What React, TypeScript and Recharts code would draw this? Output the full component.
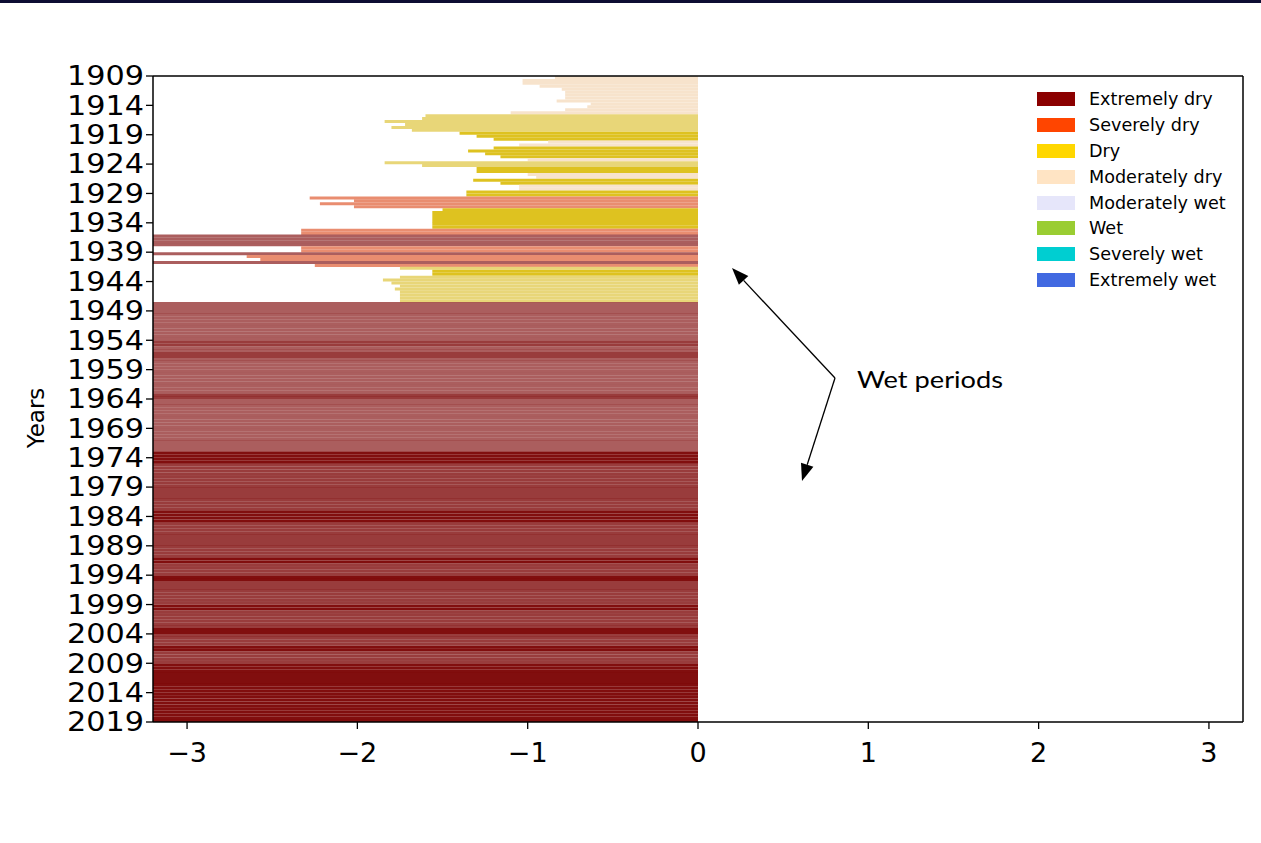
import React from 'react';
import { BarChart, Bar, XAxis, YAxis, Cell, Legend } from 'recharts';

// Legend categories and their colours
const CLASS_NAMES = [
  'Extremely dry',
  'Severely dry',
  'Dry',
  'Moderately dry',
  'Moderately wet',
  'Wet',
  'Severely wet',
  'Extremely wet',
];
const CLASS_COLORS = ['#8b0000', '#ff4500', '#ffd700', '#ffe4c4', '#e6e6fa', '#9acd32', '#00ced1', '#4169e1'];

// Axis ticks
const yTicks = [1909, 1914, 1919, 1924, 1929, 1934, 1939, 1944, 1949, 1954, 1959, 1964, 1969, 1974, 1979, 1984, 1989, 1994, 1999, 2004, 2009, 2014, 2019];
const xTicks = [-3, -2, -1, 0, 1, 2, 3];

// Early period, half-year steps (start of each half year)
const earlyPeriods = [
  1909, 1909.5, 1910, 1910.5, 1911, 1911.5, 1912, 1912.5, 1913, 1913.5,
  1914, 1914.5, 1915, 1915.5, 1916, 1916.5, 1917, 1917.5, 1918, 1918.5,
  1919, 1919.5, 1920, 1920.5, 1921, 1921.5, 1922, 1922.5, 1923, 1923.5,
  1924, 1924.5, 1925, 1925.5, 1926, 1926.5, 1927, 1927.5, 1928, 1928.5,
  1929, 1929.5, 1930, 1930.5, 1931, 1931.5, 1932, 1932.5, 1933, 1933.5,
  1934, 1934.5, 1935, 1935.5, 1936, 1936.5, 1937, 1937.5, 1938, 1938.5,
  1939, 1939.5, 1940, 1940.5, 1941, 1941.5, 1942, 1942.5, 1943, 1943.5,
  1944, 1944.5, 1945, 1945.5, 1946, 1946.5, 1947, 1947.5, 1948, 1948.5,
];
const earlySpi = [
  -0.84, -1.03, -1.03, -0.93, -0.8, -0.78, -0.78, -0.78, -0.83, -0.63,
  -0.65, -0.78, -1.1, -1.6, -1.62, -1.84, -1.72, -1.8, -1.68, -1.4,
  -1.3, -1.2, -0.88, -1.05, -1.2, -1.35, -1.25, -1.16, -1.0, -1.84,
  -1.62, -1.3, -1.3, -1.0, -0.95, -1.32, -1.16, -1.05, -1.05, -1.36,
  -1.36, -2.28, -2.02, -2.22, -2.02, -1.5, -1.56, -1.56, -1.56, -1.56,
  -1.56, -1.56, -2.33, -2.33, -3.2, -3.2, -3.2, -3.2, -2.33, -2.33,
  -3.2, -2.65, -2.57, -3.2, -2.25, -1.75, -1.56, -1.56, -1.75, -1.85,
  -1.8, -1.75, -1.78, -1.75, -1.75, -1.75, -1.75, -3.2, -3.2, -3.2,
];
// ED = extremely dry, SD = severely dry, D = dry, MD = moderately dry
const earlyClass = [
  'MD', 'MD', 'MD', 'MD', 'MD', 'MD', 'MD', 'MD', 'MD', 'MD',
  'MD', 'MD', 'MD', 'D', 'D', 'D', 'D', 'D', 'D', 'D',
  'D', 'D', 'MD', 'MD', 'D', 'D', 'D', 'D', 'MD', 'D',
  'D', 'D', 'D', 'MD', 'MD', 'D', 'D', 'MD', 'MD', 'D',
  'D', 'SD', 'SD', 'SD', 'SD', 'D', 'D', 'D', 'D', 'D',
  'D', 'D', 'SD', 'SD', 'ED', 'ED', 'ED', 'ED', 'SD', 'SD',
  'ED', 'SD', 'SD', 'ED', 'SD', 'D', 'D', 'D', 'D', 'D',
  'D', 'D', 'D', 'D', 'D', 'D', 'D', 'ED', 'ED', 'ED',
];
const earlyExtremeMonths = 4;

// Late period, yearly: all extremely dry, off the scale
const lateYears = [
  1949, 1950, 1951, 1952, 1953, 1954, 1955, 1956, 1957, 1958,
  1959, 1960, 1961, 1962, 1963, 1964, 1965, 1966, 1967, 1968,
  1969, 1970, 1971, 1972, 1973, 1974, 1975, 1976, 1977, 1978,
  1979, 1980, 1981, 1982, 1983, 1984, 1985, 1986, 1987, 1988,
  1989, 1990, 1991, 1992, 1993, 1994, 1995, 1996, 1997, 1998,
  1999, 2000, 2001, 2002, 2003, 2004, 2005, 2006, 2007, 2008,
  2009, 2010, 2011, 2012, 2013, 2014, 2015, 2016, 2017, 2018,
];
const lateSpi = [
  -3.2, -3.2, -3.2, -3.2, -3.2, -3.2, -3.2, -3.2, -3.2, -3.2,
  -3.2, -3.2, -3.2, -3.2, -3.2, -3.2, -3.2, -3.2, -3.2, -3.2,
  -3.2, -3.2, -3.2, -3.2, -3.2, -3.2, -3.2, -3.2, -3.2, -3.2,
  -3.2, -3.2, -3.2, -3.2, -3.2, -3.2, -3.2, -3.2, -3.2, -3.2,
  -3.2, -3.2, -3.2, -3.2, -3.2, -3.2, -3.2, -3.2, -3.2, -3.2,
  -3.2, -3.2, -3.2, -3.2, -3.2, -3.2, -3.2, -3.2, -3.2, -3.2,
  -3.2, -3.2, -3.2, -3.2, -3.2, -3.2, -3.2, -3.2, -3.2, -3.2,
];
// estimated number of extremely dry months per year (drives shade)
const lateExtremeMonths = [
  4, 4, 4, 4, 4, 7, 4, 7, 4, 4,
  4, 4, 4, 4, 7, 4, 4, 4, 4, 4,
  4, 4, 4, 4, 11, 11, 7, 7, 7, 7,
  7, 7, 7, 7, 11, 11, 7, 7, 7, 7,
  7, 7, 11, 7, 7, 11, 7, 7, 7, 7,
  11, 7, 7, 7, 11, 7, 7, 11, 7, 7,
  11, 11, 11, 11, 11, 11, 11, 11, 11, 11,
];

type Row = { y: number; spi: number; cls: string; months: number };
const rows: Row[] = [];
earlyPeriods.forEach((p, i) => {
  rows.push({ y: p + 0.25, spi: earlySpi[i], cls: earlyClass[i], months: earlyClass[i] === 'ED' ? earlyExtremeMonths : 0 });
});
lateYears.forEach((yr, i) => {
  rows.push({ y: yr + 0.25, spi: lateSpi[i], cls: 'ED', months: lateExtremeMonths[i] });
  rows.push({ y: yr + 0.75, spi: lateSpi[i], cls: 'ED', months: lateExtremeMonths[i] });
});

const fillFor = (r: Row) => {
  if (r.cls === 'ED') return '#7a0000';
  if (r.cls === 'SD') return '#e98d70';
  if (r.cls === 'D') return r.spi <= -1.6 ? '#e8d678' : '#dec220';
  return '#f7e3cc';
};
const opacityFor = (r: Row) => (r.cls === 'ED' ? 0.45 + 0.045 * r.months : 1);

const FONT = 'DejaVu Sans';

const LegendBox = () => (
  <div style={{ fontFamily: FONT, fontSize: 17.6, color: '#000' }}>
    {CLASS_NAMES.map((n, i) => (
      <div key={n} style={{ display: 'flex', alignItems: 'center', height: 25.9 }}>
        <span style={{ width: 38, height: 14, background: CLASS_COLORS[i], display: 'inline-block', marginRight: 14, flexShrink: 0 }} />
        <span style={{ whiteSpace: 'nowrap' }}>{n}</span>
      </div>
    ))}
  </div>
);

const minus = (v: number) => String(v).replace('-', '\u2212');

const YearTick = (props: any) => {
  const { x, y, payload } = props;
  return (
    <text x={x} y={y} dy="0.355em" textAnchor="end" fontSize={26} fontFamily={FONT} fill="#000" textLength={77} lengthAdjust="spacingAndGlyphs">
      {payload.value}
    </text>
  );
};

const YearsLabel = () => (
  <text x={36} y={418} transform="rotate(-90 36 418)" textAnchor="middle" dominantBaseline="central" fontSize={23} fontFamily={FONT} fill="#000">
    Years
  </text>
);

export default function App() {
  return (
    <div style={{ position: 'absolute', left: 0, top: 0, width: 1261, height: 843, background: '#fff', overflow: 'hidden' }}>
      <div style={{ position: 'absolute', left: 0, top: 0, width: 1261, height: 3, background: '#0d0d33' }} />
      <BarChart
        width={1261}
        height={843}
        data={rows}
        layout="vertical"
        margin={{ top: 76, right: 18, bottom: 76, left: 0 }}
        barCategoryGap={0}
        barGap={0}
      >
        <XAxis
          type="number"
          domain={[-3.2, 3.2]}
          ticks={xTicks}
          allowDataOverflow
          height={45}
          tickSize={7}
          tickMargin={14}
          tickLine={{ stroke: '#000', strokeWidth: 1.3 }}
          axisLine={{ stroke: '#000', strokeWidth: 1.5 }}
          tick={{ fontSize: 27, fill: '#000', fontFamily: FONT }}
          tickFormatter={minus}
        />
        <YAxis
          type="number"
          dataKey="y"
          domain={[1909, 2019]}
          ticks={yTicks}
          interval={0}
          allowDataOverflow
          width={153}
          tickSize={7}
          tickMargin={2}
          tickLine={{ stroke: '#000', strokeWidth: 1.3 }}
          axisLine={{ stroke: '#000', strokeWidth: 1.5 }}
          tick={<YearTick />}
          label={{ content: () => <YearsLabel /> }}
        />
        <Bar dataKey="spi" isAnimationActive={false}>
          {rows.map((r, i) => (
            <Cell key={i} fill={fillFor(r)} fillOpacity={opacityFor(r)} />
          ))}
        </Bar>
        <Legend
          layout="horizontal"
          verticalAlign="middle"
          align="center"
          content={() => <LegendBox />}
          wrapperStyle={{ position: 'absolute', top: 86, left: 1037, width: 210, height: 210 }}
        />
      </BarChart>
      <svg width={1261} height={843} style={{ position: 'absolute', left: 0, top: 0, pointerEvents: 'none' }}>
        <line x1={153} y1={76} x2={1243} y2={76} stroke="#000" strokeWidth={1.5} />
        <line x1={1243} y1={76} x2={1243} y2={722} stroke="#000" strokeWidth={1.5} />
        <line x1={835} y1={378} x2={743.6} y2={280.4} stroke="#000" strokeWidth={1.3} />
        <polygon points="732,268 748.3,276 738.9,284.8" fill="#000" />
        <line x1={835} y1={378} x2={807.2} y2={464.8} stroke="#000" strokeWidth={1.3} />
        <polygon points="802,481 813.4,466.8 801,462.8" fill="#000" />
        <text x={857} y={388} fontFamily="Lato" fontSize={24} fill="#000" textLength={146} lengthAdjust="spacingAndGlyphs">
          Wet periods
        </text>
      </svg>
    </div>
  );
}
